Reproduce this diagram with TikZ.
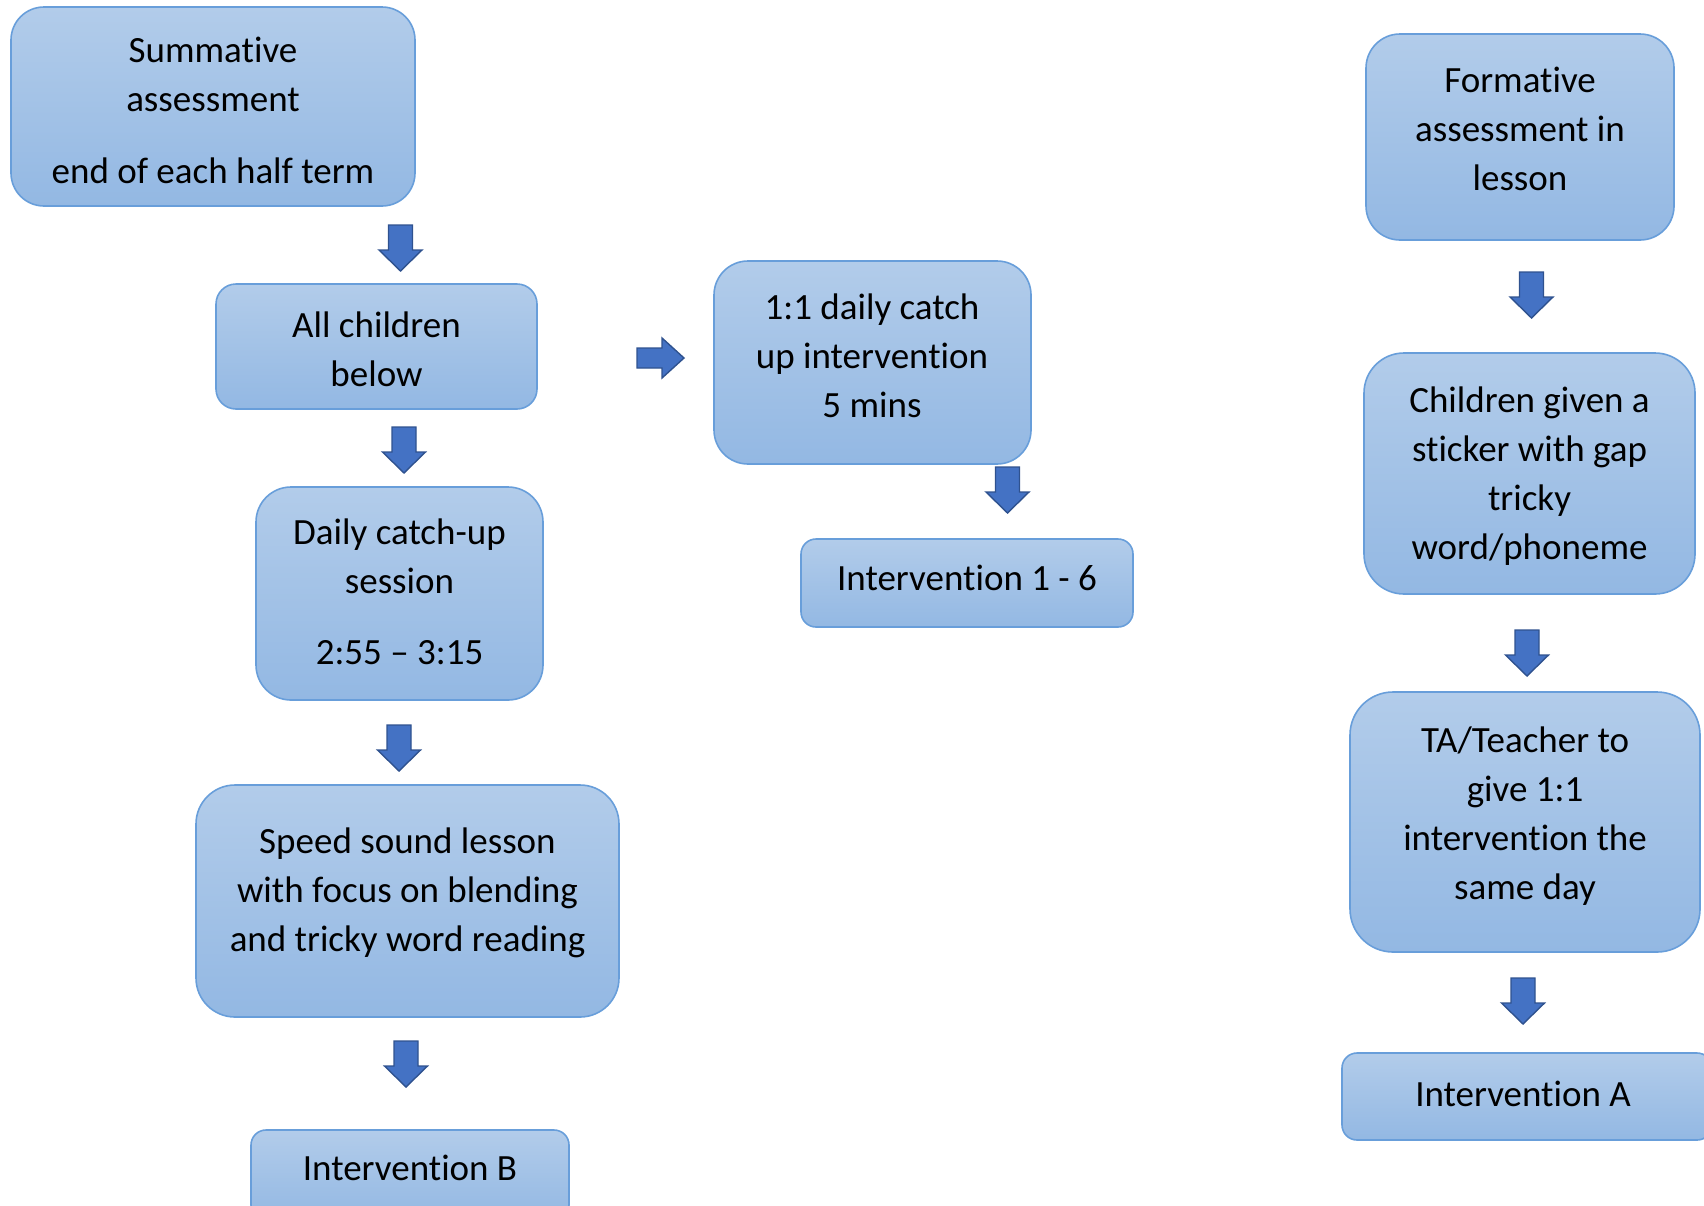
\documentclass[tikz,border=0pt]{standalone}
\usepackage{fontspec}
\setmainfont{Carlito}[Ligatures=CommonOff]
\definecolor{boxtop}{RGB}{178,204,234}
\definecolor{boxbot}{RGB}{147,184,227}
\definecolor{boxline}{RGB}{104,158,218}
\definecolor{arrfill}{RGB}{68,114,196}
\definecolor{arrline}{RGB}{47,82,143}
\tikzset{
  flowbox/.style={draw=boxline, line width=1.6pt, top color=boxtop, bottom color=boxbot, inner sep=0pt},
  boxtext/.style={align=center, inner sep=0pt, font=\fontsize{37}{49}\selectfont},
  blockarrow/.style={fill=arrfill, draw=arrline, line width=1.4pt, line join=miter}
}
\newcommand{\downblock}[1]{%
  \draw[blockarrow] (#1) ++(-12,0) -- ++(24,0) -- ++(0,25) -- ++(9.5,0) -- ++(-21.5,21) -- ++(-21.5,-21) -- ++(9.5,0) -- cycle;}
\begin{document}
\begin{tikzpicture}[x=1pt,y=-1pt]
\useasboundingbox (0,0) rectangle (1704,1205);
% left column boxes
\path[flowbox, rounded corners=33] (11,7) rectangle (415,206) node[pos=.5,inner sep=0] (b1) {};
\path[flowbox, rounded corners=20] (216,284) rectangle (537,409) node[pos=.5,inner sep=0] (b2) {};
\path[flowbox, rounded corners=35] (256,487) rectangle (543,700) node[pos=.5,inner sep=0] (b3) {};
\path[flowbox, rounded corners=39] (196,785) rectangle (619,1017) node[pos=.5,inner sep=0] (b4) {};
\path[flowbox, rounded corners=15] (251,1130) rectangle (569,1220) node[pos=.5,inner sep=0] (b5) {};
% middle boxes
\path[flowbox, rounded corners=34] (714,261) rectangle (1031,464) node[pos=.5,inner sep=0] (b6) {};
\path[flowbox, rounded corners=15] (801,539) rectangle (1133,627) node[pos=.5,inner sep=0] (b7) {};
% right boxes
\path[flowbox, rounded corners=34] (1366,34) rectangle (1674,240) node[pos=.5,inner sep=0] (b8) {};
\path[flowbox, rounded corners=40] (1364,353) rectangle (1695,594) node[pos=.5,inner sep=0] (b9) {};
\path[flowbox, rounded corners=43] (1350,692) rectangle (1700,952) node[pos=.5,inner sep=0] (b10) {};
\path[flowbox, rounded corners=15] (1342,1053) rectangle (1712,1140) node[pos=.5,inner sep=0] (b11) {};
% texts
\node[boxtext] (t1) at (213,110.5) {Summative\\assessment\\[23pt]end of each half term};
\node[boxtext] (t2) at (376.5,349) {All children\\below};
\node[boxtext] (t3) at (399.5,592) {Daily catch-up\\session\\[22pt]2:55 -- 3:15};
\node[boxtext] (t4) at (407.5,893) {Speed sound lesson\\with focus on blending\\and tricky word reading};
\node[boxtext] (t5) at (410,1168) {Intervention B};
\node[boxtext] (t6) at (872,355.5) {1:1 daily catch\\up intervention\\5 mins};
\node[boxtext] (t7) at (967,578) {Intervention 1 - 6};
\node[boxtext] (t8) at (1520,128.5) {Formative\\assessment in\\lesson};
\node[boxtext] (t9) at (1529.5,476.5) {Children given a\\sticker with gap\\tricky\\word/phoneme};
\node[boxtext] (t10) at (1525,816.5) {TA/Teacher to\\give 1:1\\intervention the\\same day};
\node[boxtext] (t11) at (1523,1094) {Intervention A};
% block arrows
\coordinate (a1) at (400.5,225);
\coordinate (a2) at (404,427);
\coordinate (a3) at (399,725);
\coordinate (a4) at (406,1041);
\coordinate (a5) at (1007.5,467);
\coordinate (a6) at (1531.5,272);
\coordinate (a7) at (1527,630);
\coordinate (a8) at (1523,978);
\downblock{a1}
\downblock{a2}
\downblock{a3}
\downblock{a4}
\downblock{a5}
\downblock{a6}
\downblock{a7}
\downblock{a8}
\coordinate (ar) at (637,358);
\draw[blockarrow] (ar) ++(0,-10) -- ++(25,0) -- ++(0,-10) -- ++(22,20) -- ++(-22,20) -- ++(0,-10) -- ++(-25,0) -- cycle;
\end{tikzpicture}
\end{document}
